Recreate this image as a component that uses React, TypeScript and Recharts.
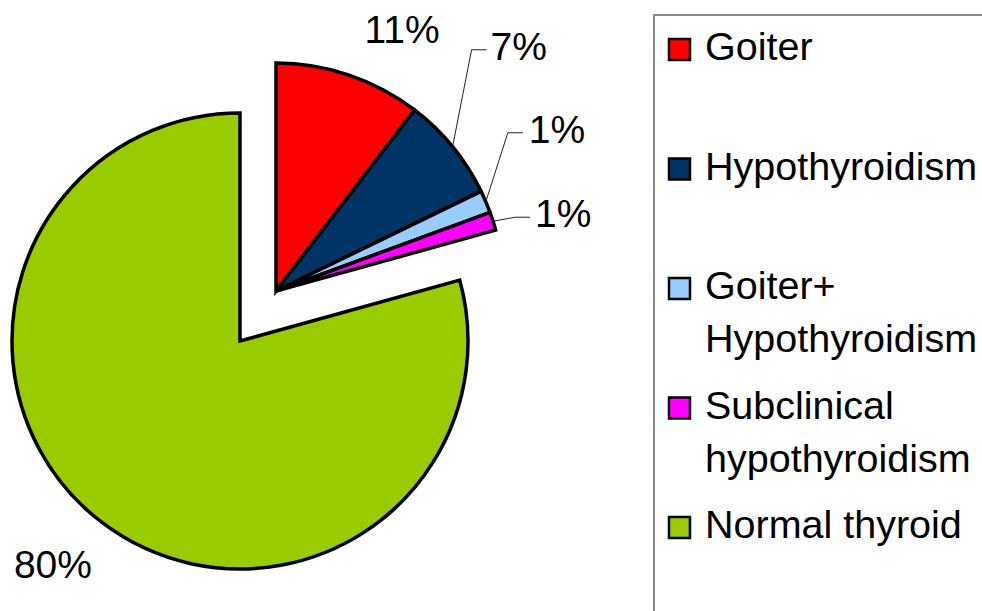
import React from "react";
import { PieChart, Pie, Cell, Legend } from "recharts";

if (typeof document !== "undefined") {
  document.body.style.margin = "0";
  document.body.style.overflow = "hidden";
}

const categories = [
  "Goiter",
  "Hypothyroidism",
  "Goiter+ Hypothyroidism",
  "Subclinical hypothyroidism",
  "Normal thyroid",
];
const shares = [10.4, 7.4, 1.6, 1.3, 79.3];
const labelTexts = ["11%", "7%", "1%", "1%", "80%"];
const legendLines = [
  ["Goiter"],
  ["Hypothyroidism"],
  ["Goiter+", "Hypothyroidism"],
  ["Subclinical", "hypothyroidism"],
  ["Normal thyroid"],
];
const colors = ["#FF0000", "#003366", "#99CCFF", "#FF00FF", "#99CC00"];
const exploded = [true, true, true, true, false];

const data = categories.map((name, i) => ({ name, value: shares[i] }));

const FONT = "'Liberation Sans', Arial, sans-serif";
const RADIAN = Math.PI / 180;

// label layout relative to the slice's outer edge point (style, not data)
const labelLayout = [
  { line: false, tx: 53, ty: -32, anchor: "middle" },
  { line: true, ex: 19, ey: -97, hx: 34, tx: 38, ty: -87, anchor: "start" },
  { line: true, ex: 22, ey: -69, hx: 37, tx: 43, ty: -59, anchor: "start" },
  { line: true, ex: 22, ey: -4, hx: 37, tx: 42, ty: 6, anchor: "start" },
  { line: false, tx: -49, ty: 56, anchor: "middle" },
];

const makeLabel = (showExploded: boolean) => (props: any) => {
  const { cx, cy, midAngle, outerRadius, index } = props;
  if (exploded[index] !== showExploded) return null;
  const px = cx + outerRadius * Math.cos(-midAngle * RADIAN);
  const py = cy + outerRadius * Math.sin(-midAngle * RADIAN);
  const L: any = labelLayout[index];
  return (
    <g key={`lbl-${index}`}>
      {L.line && (
        <polyline
          points={`${px},${py} ${px + L.ex},${py + L.ey} ${px + L.hx},${py + L.ey}`}
          fill="none"
          stroke="#222"
          strokeWidth={1}
        />
      )}
      <text
        x={px + L.tx}
        y={py + L.ty}
        textAnchor={L.anchor}
        fontFamily={FONT}
        fontSize={39}
        fill="#000"
      >
        {labelTexts[index]}
      </text>
    </g>
  );
};

const renderLegend = () => (
  <div
    style={{
      width: 340,
      height: 610,
      border: "2px solid #888",
      boxSizing: "border-box",
      background: "#fff",
    }}
  >
    <svg width={336} height={606} style={{ display: "block" }}>
      {legendLines.map((lines, i) => {
        const base = 44 + i * 119.5;
        return (
          <g key={i}>
            <rect
              x={14}
              y={base - 21}
              width={21}
              height={21}
              fill={colors[i]}
              stroke="#000"
              strokeWidth={2.5}
            />
            {lines.map((t, j) => (
              <text
                key={j}
                x={50}
                y={base + j * 53}
                fontFamily={FONT}
                fontSize={39.5}
                fill="#000"
              >
                {t}
              </text>
            ))}
          </g>
        );
      })}
    </svg>
  </div>
);

export default function App() {
  return (
    <div style={{ width: 982, height: 611, position: "relative", background: "#fff", overflow: "hidden" }}>
      <PieChart width={982} height={611} margin={{ top: 0, right: 0, bottom: 0, left: 0 }}>
        <Pie
          data={data}
          dataKey="value"
          nameKey="name"
          cx={240}
          cy={341}
          outerRadius={228}
          startAngle={90}
          endAngle={-270}
          isAnimationActive={false}
          labelLine={false}
          label={makeLabel(false)}
        >
          {data.map((d, i) => (
            <Cell
              key={`g-${i}`}
              fill={exploded[i] ? "none" : colors[i]}
              stroke={exploded[i] ? "none" : "#000"}
              strokeWidth={3.5}
            />
          ))}
        </Pie>
        <Pie
          data={data}
          dataKey="value"
          nameKey="name"
          cx={276}
          cy={291}
          outerRadius={228}
          startAngle={90}
          endAngle={-270}
          isAnimationActive={false}
          labelLine={false}
          label={makeLabel(true)}
        >
          {data.map((d, i) => (
            <Cell
              key={`s-${i}`}
              fill={exploded[i] ? colors[i] : "none"}
              stroke={exploded[i] ? "#000" : "none"}
              strokeWidth={3.5}
            />
          ))}
        </Pie>
        <Legend
          content={renderLegend}
          wrapperStyle={{ position: "absolute", left: 653, top: 14, width: 340, height: 610 }}
        />
      </PieChart>
    </div>
  );
}
